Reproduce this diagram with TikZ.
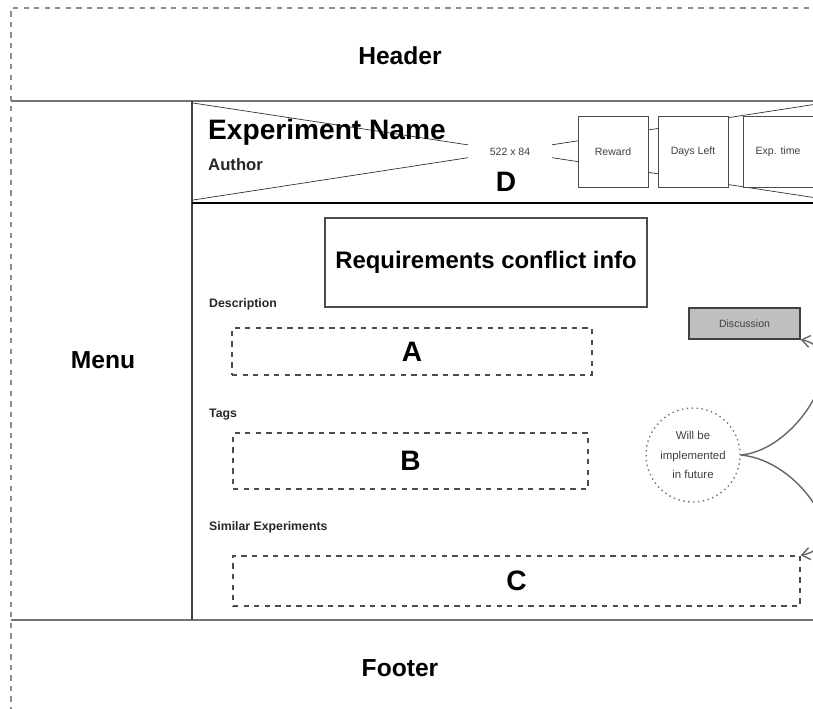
\documentclass[tikz,border=0pt]{standalone}
\usepackage{fontspec}
\setmainfont{Liberation Sans}
\usetikzlibrary{arrows.meta}

\tikzset{
  zone/.style={font=\bfseries\fontsize{14}{16}\selectfont},
  letter/.style={font=\bfseries\fontsize{16}{18}\selectfont},
  caption/.style={anchor=west, font=\bfseries\fontsize{7}{8}\selectfont, text=black!85},
  field/.style={draw=black!70, dashed, thick, minimum height=0.94cm},
  statbox/.style={draw=black!70, fill=white, minimum width=1.4cm, minimum height=1.42cm,
    font=\fontsize{6}{7}\selectfont, text=black!75},
  note/.style={font=\fontsize{6.5}{11}\selectfont, text=black!75, align=center},
  link/.style={draw=black!60, thick, -{Straight Barb[length=1.6mm,width=2.4mm]}}
}

\begin{document}
\begin{tikzpicture}[x=0.02cm, y=-0.02cm]
  \useasboundingbox (0,0) rectangle (813,708);
  \clip (0,0) rectangle (813,708);
  % page frame
  \draw[black!45, dashed, thick] (830,8) -- (11,8) -- (11,720);
  \draw[black!55, thick] (11,101) -- (830,101);
  \draw[black!55, thick] (11,620) -- (830,620);
  \draw[black!75, thick] (192,101) -- (192,620);
  \draw[black, line width=1.3pt] (192,203) -- (830,203);

  \node[zone] (header) at (400,56) {Header};
  \node[zone] (menu) at (103,360) {Menu};
  \node[zone] (footer) at (400,668) {Footer};

  % image placeholder
  \draw[black!80] (193,103) -- (830,200);
  \draw[black!80] (193,200) -- (830,102);
  \node[fill=white, minimum width=1.68cm, minimum height=0.36cm, inner sep=0pt,
    font=\fontsize{6}{7}\selectfont, text=black!75] (size) at (510,152) {522 x 84};
  \node[anchor=west, font=\bfseries\fontsize{16}{18}\selectfont] (title) at (202,132) {Experiment Name};
  \node[anchor=west, font=\bfseries\fontsize{9.5}{11}\selectfont, text=black!85] (author) at (202,165) {Author};
  \node[letter] (d) at (506,182) {D};

  \node[statbox] (reward) at (613,151.5) {Reward};
  \node[statbox] (days) at (693,151.5) {Days Left};
  \node[statbox] (exptime) at (778,151.5) {Exp. time};

  % content
  \node[draw=black!70, thick, minimum width=6.44cm, minimum height=1.78cm,
    font=\bfseries\fontsize{13.6}{15}\selectfont] (info) at (486,262.5) {Requirements conflict info};

  \node[caption] (desc) at (203,304) {Description};
  \node[field, minimum width=7.2cm] (fa) at (412,351.5) {};
  \node[letter] at (fa) {A};

  \node[caption] (tags) at (203,415) {Tags};
  \node[field, minimum width=7.1cm, minimum height=1.12cm] (fb) at (410.5,461) {};
  \node[letter] at (fb) {B};

  \node[caption] (similar) at (203,527) {Similar Experiments};
  \node[field, minimum width=11.34cm, minimum height=1.0cm] (fc) at (516.5,581) {};
  \node[letter] at (fc) {C};

  \node[draw=black!75, thick, fill=black!25, minimum width=2.22cm, minimum height=0.62cm,
    font=\fontsize{6}{7}\selectfont, text=black!75] (disc) at (744.5,323.5) {Discussion};

  \node[note, draw=black!55, dotted, thick, circle, minimum size=1.88cm, inner sep=0pt] (future)
    at (693,455) {Will be\\implemented\\in future};

  \draw[link] (future.east) .. controls (800,450) and (855,350) .. (disc.south east);
  \draw[link] (future.east) .. controls (800,460) and (855,545) .. (fc.north east);
\end{tikzpicture}
\end{document}
